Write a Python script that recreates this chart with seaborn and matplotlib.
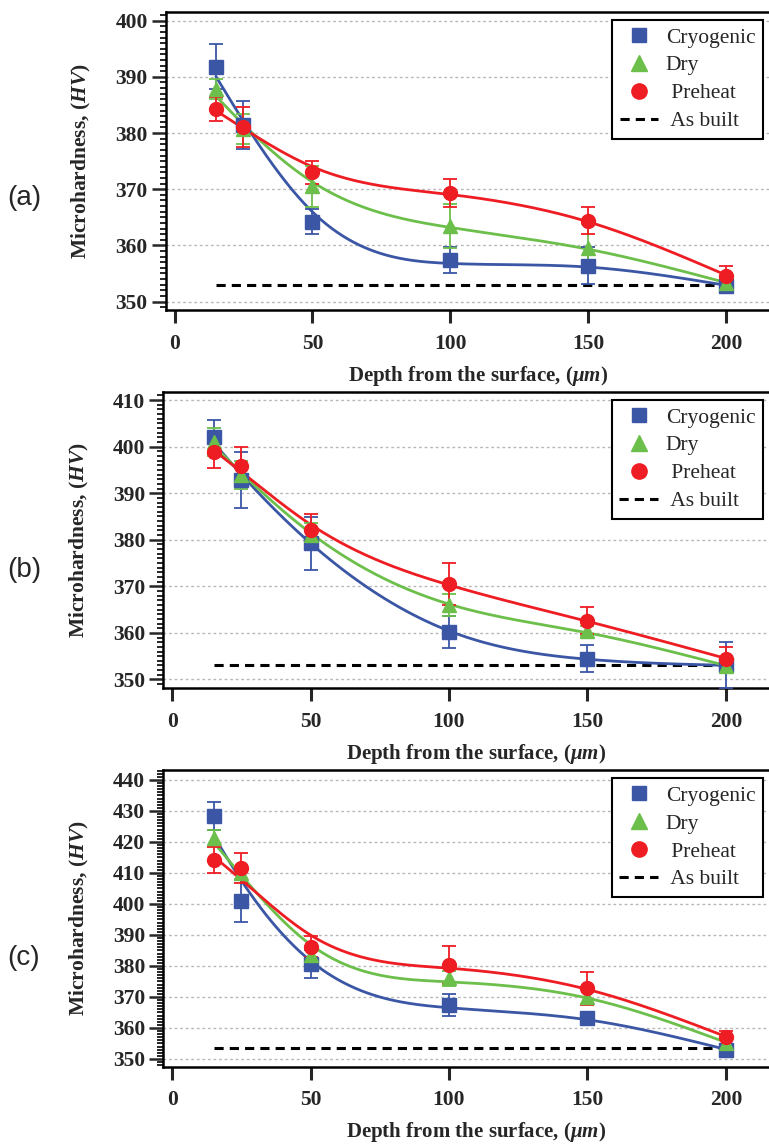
import numpy as np
import pandas as pd
import matplotlib
matplotlib.use("Agg")
import matplotlib.pyplot as plt
import seaborn as sns
from matplotlib.lines import Line2D
from matplotlib.ticker import MultipleLocator

# ---------------- data ----------------
depth = [15, 25, 50, 100, 150, 200]

cryo_a = [391.8, 381.4, 364.2, 357.4, 356.4, 352.8]
cryo_a_err = [4.0, 4.3, 2.2, 2.4, 3.3, 0.8]
dry_a = [387.8, 380.7, 370.5, 363.5, 359.5, 353.3]
dry_a_err = [1.8, 2.7, 3.7, 3.9, 4.3, 0.8]
pre_a = [384.3, 381.1, 373.0, 369.4, 364.4, 354.6]
pre_a_err = [2.2, 3.6, 2.1, 2.5, 2.4, 1.8]
built_a = 353.0

cryo_b = [402.1, 392.8, 379.2, 360.2, 354.5, 353.1]
cryo_b_err = [3.7, 6.0, 5.7, 3.4, 3.0, 5.0]
dry_b = [401.0, 393.9, 381.0, 366.0, 360.4, 352.9]
dry_b_err = [3.0, 3.0, 2.5, 2.3, 1.0, 0.8]
pre_b = [398.9, 395.8, 382.1, 370.5, 362.6, 354.5]
pre_b_err = [3.5, 4.2, 3.4, 4.5, 2.9, 2.5]
built_b = 353.1

cryo_c = [428.4, 401.0, 380.6, 367.4, 363.1, 352.9]
cryo_c_err = [4.4, 6.7, 4.6, 3.5, 2.0, 1.0]
dry_c = [421.2, 409.9, 383.5, 376.0, 370.1, 355.1]
dry_c_err = [2.5, 2.0, 3.0, 2.5, 2.5, 1.0]
pre_c = [414.2, 411.5, 386.2, 380.3, 372.8, 357.0]
pre_c_err = [4.1, 4.9, 3.4, 6.0, 5.4, 2.1]
built_c = 353.5

series_names = ["Cryogenic", "Dry", "Preheat"]
colors = {"Cryogenic": "#3a56a5", "Dry": "#6cbf4a", "Preheat": "#ee1d23"}
markers = {"Cryogenic": "s", "Dry": "^", "Preheat": "o"}
msizes = {"Cryogenic": 9.5, "Dry": 10.5, "Preheat": 10}


def smooth_curve(x, y, lam=2500.0, step=0.5):
    # penalised (smoothing-spline like) curve through the measured points
    grid = np.arange(x[0], x[-1] + step / 2, step)
    n = len(grid)
    A = np.zeros((len(x), n))
    for i, xi in enumerate(x):
        A[i, int(round((xi - x[0]) / step))] = 1.0
    D = np.diff(np.eye(n), 2, axis=0)
    M = A.T @ A + lam / step**3 * (D.T @ D)
    f = np.linalg.solve(M, A.T @ np.asarray(y, float))
    return grid, f


# ---------------- style ----------------
sns.set_style("ticks")
plt.rcParams["font.family"] = ["Liberation Serif", "DejaVu Serif"]
plt.rcParams["font.weight"] = "bold"
plt.rcParams["mathtext.fontset"] = "custom"
plt.rcParams["mathtext.rm"] = "Liberation Serif:bold"
plt.rcParams["mathtext.it"] = "Liberation Serif:italic:bold"

fig = plt.figure(figsize=(7.69, 11.44), dpi=100)

panels = [
    ("(a)", [cryo_a, dry_a, pre_a], [cryo_a_err, dry_a_err, pre_a_err], built_a,
     [165.7 / 769, 1 - 310 / 1144, 1 - 165.7 / 769, 298.3 / 1144], (348.5, 401.6), np.arange(350, 401, 10), 198),
    ("(b)", [cryo_b, dry_b, pre_b], [cryo_b_err, dry_b_err, pre_b_err], built_b,
     [163.3 / 769, 1 - 688.3 / 1144, 1 - 163.3 / 769, 296.6 / 1144], (348.1, 411.8), np.arange(350, 411, 10), 570),
    ("(c)", [cryo_c, dry_c, pre_c], [cryo_c_err, dry_c_err, pre_c_err], built_c,
     [163.3 / 769, 1 - 1066.7 / 1144, 1 - 163.3 / 769, 296.7 / 1144], (347.5, 443.2), np.arange(350, 441, 10), 958),
]

for tag, vals, errs, built, pos, ylim, yticks, tag_y in panels:
    ax = fig.add_axes(pos)

    # smooth curves
    parts = []
    for n, v in zip(series_names, vals):
        gx, gy = smooth_curve(depth, v)
        parts.append(pd.DataFrame({"depth": gx, "hv": gy, "series": n}))
    curves = pd.concat(parts)
    sns.lineplot(data=curves, x="depth", y="hv", hue="series", palette=colors,
                 linewidth=2.0, legend=False, ax=ax, zorder=3)

    # as built reference
    ax.plot([15, 200], [built, built], color="black", lw=2.2, dashes=(3, 2), zorder=2)

    # markers with error bars
    for n, v, e in zip(series_names, vals, errs):
        ax.errorbar(depth, v, yerr=e, fmt=markers[n], color=colors[n], ms=msizes[n],
                    elinewidth=1.3, capsize=5, capthick=1.3, zorder=4)

    ax.set_xlim(-3.2, 215.6)
    ax.set_ylim(*ylim)
    ax.set_xticks([0, 50, 100, 150, 200])
    ax.set_yticks(yticks)
    ax.yaxis.set_minor_locator(MultipleLocator(1))
    ax.yaxis.grid(True, which="major", color="#b8b8b8", lw=1.0, ls=(0, (2, 2)))
    ax.set_axisbelow(True)

    for side in ["left", "top", "bottom"]:
        ax.spines[side].set_linewidth(1.8)
        ax.spines[side].set_color("black")
    ax.spines["right"].set_visible(False)

    ax.tick_params(axis="y", which="major", direction="out", length=10, width=1.8,
                   pad=3, labelsize=15.5)
    ax.tick_params(axis="y", which="minor", direction="out", length=4.5, width=1.4)
    ax.tick_params(axis="x", which="major", direction="out", length=9, width=2.2,
                   pad=8, labelsize=15.5)
    for lab in ax.get_xticklabels() + ax.get_yticklabels():
        lab.set_fontweight("bold")

    ax.set_xlabel(r"Depth from the surface, $\mathit{(\mu m)}$", fontsize=15, fontweight="bold")
    ax.set_ylabel(r"Microhardness, $\mathit{(HV)}$", fontsize=15.5, fontweight="bold")
    ax.xaxis.set_label_coords(0.517, -0.18)
    ax.yaxis.set_label_coords(-0.12, 0.5)

    handles = [Line2D([], [], ls="none", marker=markers[n], color=colors[n], ms=msizes[n] + 1)
               for n in series_names]
    handles.append(Line2D([], [], color="black", lw=2.2, dashes=(3, 2)))
    leg = ax.legend(handles, ["Cryogenic", "Dry", " Preheat", " As built"],
                    loc="upper right", bbox_to_anchor=(0.99, 0.972),
                    prop={"family": "Liberation Serif", "weight": "normal", "size": 15.5},
                    frameon=True, fancybox=False, framealpha=1, edgecolor="black",
                    borderpad=0.35, labelspacing=0.36, handlelength=1.8,
                    handletextpad=0.35, borderaxespad=0)
    leg.get_frame().set_linewidth(1.5)

    fig.text(24 / 769, 1 - tag_y / 1144, tag, ha="center", va="center",
             fontsize=20, family="Liberation Sans", fontweight="normal")

fig.savefig("out.png", dpi=100)
